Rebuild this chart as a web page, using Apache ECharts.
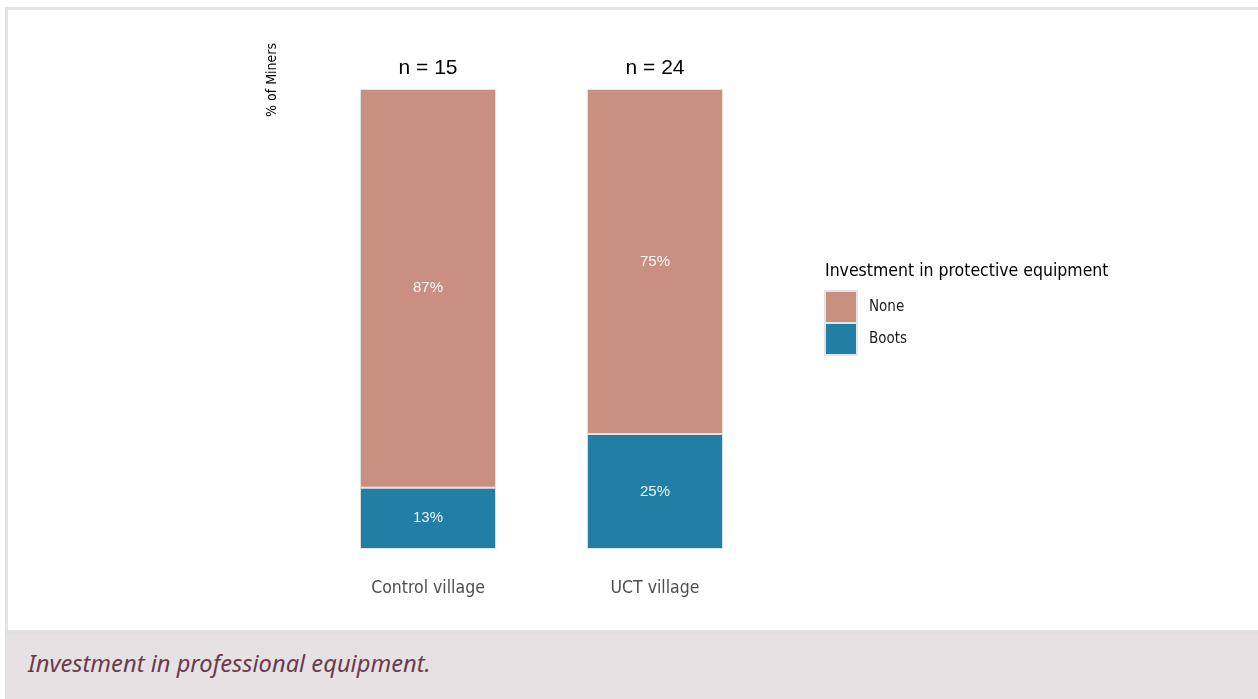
<!DOCTYPE html>
<html>
<head>
<meta charset="utf-8">
<title>Investment in professional equipment</title>
<script src="https://cdn.jsdelivr.net/npm/echarts@6/dist/echarts.min.js"></script>
<style>
  html, body { margin: 0; padding: 0; background: #fff; }
  .frame {
    position: absolute; left: 5px; top: 7px; width: 1250px; height: 620px;
    border-top: 3px solid #e3e4e3; border-left: 3px solid #e3e4e3; border-right: 1px solid #e3e4e3;
  }
  .caption {
    position: absolute; left: 5px; top: 630px; width: 1253px; height: 69px;
    background: #e6e1e2; border-top: 4px solid #dfe0df;
    font-family: "Noto Sans", "Open Sans", sans-serif; font-style: italic;
    font-size: 23.7px; color: #6b3a50; line-height: 58px; padding-left: 23px; box-sizing: border-box;
  }
  #chart { position: absolute; left: 0; top: 0; width: 1258px; height: 630px; }
</style>
</head>
<body>
<div class="frame"></div>
<div class="caption">Investment in professional equipment.</div>
<div id="chart"></div>
<script>
  // counts of miners per village
  const villages = ['Control village', 'UCT village']
  const noneCounts = [13, 18]
  const bootsCounts = [2, 6]
  const legendNames = ['None', 'Boots']

  const totals = villages.map((v, i) => noneCounts[i] + bootsCounts[i])
  const pct = (arr) => arr.map((c, i) => c / totals[i] * 100)

  const narrow = '"Liberation Sans Narrow", "DejaVu Sans Condensed", "Liberation Sans", sans-serif'
  const barBorder = { borderColor: '#e4e4e4', borderWidth: 1 }
  const innerLabel = {
    show: true,
    position: 'inside',
    color: 'rgba(255,255,255,0.92)',
    fontSize: 15,
    fontFamily: '"Liberation Sans", Arial, sans-serif',
    formatter: p => Math.round(p.value) + '%'
  }

  const chart = echarts.init(document.getElementById('chart'))
  chart.setOption({
    animation: false,
    grid: { left: 314.5, right: 489.5, top: 89, bottom: 81 },
    xAxis: {
      type: 'category',
      data: villages,
      axisLine: { show: false },
      axisTick: { show: false },
      axisLabel: { color: '#4d4d4d', fontSize: 17.5, fontFamily: narrow, margin: 30 }
    },
    yAxis: { type: 'value', min: 0, max: 100, show: false },
    legend: {
      data: legendNames,
      orient: 'vertical',
      left: 824,
      top: 290,
      padding: 0,
      itemWidth: 32,
      itemHeight: 32,
      itemGap: -2,
      icon: 'rect',
      textStyle: { color: '#1a1a1a', fontSize: 15, fontFamily: narrow, padding: [0, 0, 0, 7] }
    },
    graphic: [
      {
        type: 'text', x: 272, y: 80, rotation: Math.PI / 2,
        style: { text: '% of Miners', fill: '#000', fontSize: 14, fontFamily: narrow, align: 'center', verticalAlign: 'middle' }
      },
      {
        type: 'text', x: 825, y: 271,
        style: { text: 'Investment in protective equipment', fill: '#000', fontSize: 17.5, fontFamily: narrow, align: 'left', verticalAlign: 'middle' }
      }
    ],
    series: [
      {
        name: 'Boots', type: 'bar', stack: 'all', barWidth: '60%',
        itemStyle: Object.assign({ color: '#217ea5' }, barBorder),
        label: innerLabel,
        data: pct(bootsCounts)
      },
      {
        name: 'None', type: 'bar', stack: 'all', barWidth: '60%',
        itemStyle: Object.assign({ color: '#c98f81' }, barBorder),
        label: innerLabel,
        data: pct(noneCounts)
      },
      {
        name: 'n', type: 'bar', stack: 'all', barWidth: '60%',
        itemStyle: { color: 'transparent', borderWidth: 0 },
        label: {
          show: true, position: 'top', distance: 10,
          color: '#000', fontSize: 21, fontFamily: '"Liberation Sans", Arial, sans-serif',
          formatter: p => 'n = ' + totals[p.dataIndex]
        },
        data: villages.map(() => 0)
      }
    ]
  })
</script>
</body>
</html>
